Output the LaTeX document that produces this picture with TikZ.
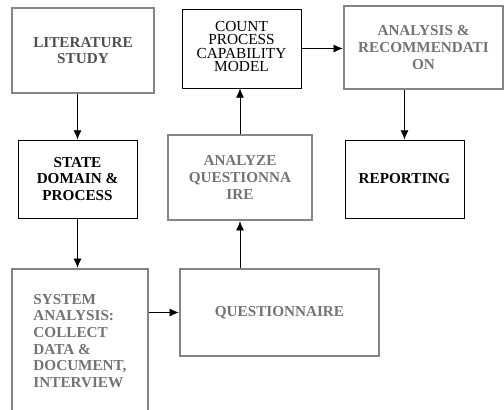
\documentclass[tikz,border=0pt]{standalone}
\usepackage{fontspec}
\setmainfont{Liberation Serif}
\usetikzlibrary{arrows.meta}

\definecolor{boxgray}{RGB}{133,133,133}
\definecolor{txtgray}{RGB}{115,115,115}
\definecolor{txtdark}{RGB}{80,80,80}

\tikzset{every picture/.style={line width=0.75pt}}
\tikzset{
  graybox/.style={draw=boxgray, line width=1.7pt, inner sep=0pt, align=center,
    font=\fontsize{11.4}{12.5}\selectfont\bfseries, text=txtgray},
  blackbox/.style={draw=black, line width=0.6pt, inner sep=0pt, align=center,
    font=\fontsize{11.4}{12.5}\selectfont\bfseries},
  arr/.style={draw=black, line width=0.6pt, -{Latex[length=7pt,width=6pt]}}
}

\begin{document}
\begin{tikzpicture}[x=0.75pt,y=0.75pt,yscale=-1,xscale=1]
  \useasboundingbox (0,0) rectangle (504,410);
  \clip (0,0) rectangle (504,410);
  % top row
  \node (lit) [graybox, text=txtdark, minimum width=106.5pt, minimum height=63.75pt] at (83,50.5) {LITERATURE\\STUDY};
  \node (count) [blackbox, font=\fontsize{11.5}{10}\selectfont, minimum width=89.25pt, minimum height=59.25pt] at (241.5,48.5) {COUNT\\PROCESS\\CAPABILITY\\MODEL\\[-7pt]};
  \node (anal) [graybox, minimum width=119.25pt, minimum height=62.25pt] at (423.5,47.5) {ANALYSIS \&\\RECOMMENDATI\\ON};
  % middle row
  \node (state) [blackbox, minimum width=89.25pt, minimum height=58.5pt] at (77.5,179) {STATE\\DOMAIN \&\\PROCESS};
  \node (analyze) [graybox, minimum width=108pt, minimum height=63.75pt] at (240,177.5) {ANALYZE\\QUESTIONNA\\IRE};
  \node (report) [blackbox, minimum width=89.25pt, minimum height=58.5pt] at (404.5,179) {REPORTING};
  % bottom row
  \node (sys) [graybox, align=left, minimum width=102pt, minimum height=108pt] at (80,341) {SYSTEM\\ANALYSIS:\\COLLECT\\DATA \&\\DOCUMENT,\\INTERVIEW};
  \node (quest) [graybox, minimum width=149.25pt, minimum height=65.25pt] at (279.5,312.5) {QUESTIONNAIRE};

  % connectors
  \draw [arr] (lit.south -| state.north) -- (state.north);
  \draw [arr] (state.south) -- (state.south |- sys.north);
  \draw [arr] (quest.west -| sys.east) -- (quest.west);
  \draw [arr] (analyze.south |- quest.north) -- (analyze.south);
  \draw [arr] (analyze.north) -- (analyze.north |- count.south);
  \draw [arr] (count.east) -- (count.east -| anal.west);
  \draw [arr] (report.north |- anal.south) -- (report.north);
\end{tikzpicture}
\end{document}
